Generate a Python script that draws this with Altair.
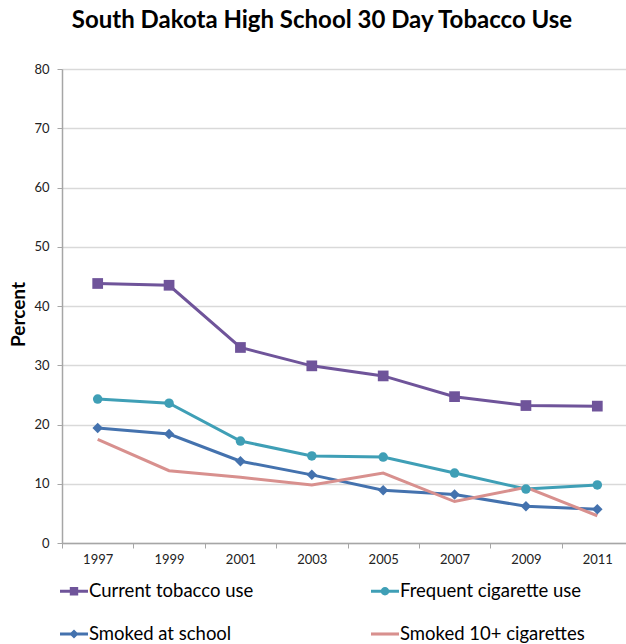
import altair as alt
import pandas as pd

years = ["1997", "1999", "2001", "2003", "2005", "2007", "2009", "2011"]
series = ["Current tobacco use", "Frequent cigarette use", "Smoked at school", "Smoked 10+ cigarettes"]
current = [43.8, 43.5, 33.0, 29.9, 28.2, 24.7, 23.2, 23.1]
frequent = [24.3, 23.6, 17.2, 14.7, 14.5, 11.8, 9.1, 9.8]
school = [19.4, 18.4, 13.8, 11.5, 8.9, 8.2, 6.2, 5.7]
ten_plus = [17.5, 12.2, 11.1, 9.8, 11.8, 7.0, 9.4, 4.6]
colors = ["#6F549A", "#3F9FB6", "#4472AE", "#D8908E"]
y_ticks = [0, 10, 20, 30, 40, 50, 60, 70, 80]

rows = []
for s_i, (name, vals) in enumerate(zip(series, [current, frequent, school, ten_plus])):
    for yr, v in zip(years, vals):
        rows.append({"year": yr, "value": v, "series": name, "sidx": s_i})
df = pd.DataFrame(rows)

FONT = "Lato"

# legend symbols: line with marker (custom paths, unit box -1..1)
legend_paths = [
    "M-1,-0.11H1V0.11H-1Z M-0.3,-0.3H0.3V0.3H-0.3Z",
    "M-1,-0.11H1V0.11H-1Z M0.3,0A0.3,0.3 0 1,1 -0.3,0A0.3,0.3 0 1,1 0.3,0Z",
    "M-1,-0.11H1V0.11H-1Z M0,-0.33L0.33,0L0,0.33L-0.33,0Z",
    "M-1,-0.11H1V0.11H-1Z",
]

x_enc = alt.X(
    "year:N",
    sort=years,
    scale=alt.Scale(type="band", domain=years, paddingInner=0, paddingOuter=0, range=[0, 571]),
    axis=alt.Axis(
        title=None, labelAngle=0, tickBand="extent", labelFont=FONT, labelFontSize=13,
        labelColor="#222222", domainColor="#A6A6A6", tickColor="#A6A6A6", tickSize=5,
        labelPadding=5, domainWidth=1.5, grid=False,
    ),
)
y_enc = alt.Y(
    "value:Q",
    scale=alt.Scale(domain=[0, 80], nice=False),
    axis=alt.Axis(
        title="Percent", values=y_ticks, labelFont=FONT, labelFontSize=13, labelColor="#222222",
        titleFont=FONT, titleFontSize=19, titleFontWeight="bold", titleColor="#000000",
        titleX=-44, titleY=245, titleBaseline="middle", titleAngle=-90,
        domainColor="#A6A6A6", tickColor="#A6A6A6", tickSize=5, labelPadding=8, domainWidth=1.5,
        gridColor="#D9D9D9", gridWidth=1.5,
    ),
)
color_enc = alt.Color("series:N", scale=alt.Scale(domain=series, range=colors), legend=None)

base = alt.Chart(df)

lines = base.mark_line(strokeWidth=3).encode(x=x_enc, y=y_enc, color=color_enc, order=alt.Order("year:N"))

sq = base.transform_filter(alt.datum.series == series[0]).mark_square(size=115, opacity=1).encode(
    x=x_enc, y=y_enc, color=color_enc)
circ = base.transform_filter(alt.datum.series == series[1]).mark_circle(size=90, opacity=1).encode(
    x=x_enc, y=y_enc, color=color_enc)
diam = base.transform_filter(alt.datum.series == series[2]).mark_point(
    shape="diamond", size=110, filled=True, opacity=1).encode(x=x_enc, y=y_enc, color=color_enc)

dummy = base.transform_filter("datum.sidx < 0").mark_point(filled=True, opacity=1).encode(
    x=x_enc, y=y_enc,
    color=alt.Color(
        "series:N",
        scale=alt.Scale(domain=series, range=colors),
        legend=alt.Legend(
            title=None, orient="none", legendX=-2, legendY=508, columns=2, direction="horizontal",
            symbolSize=784, symbolStrokeWidth=0, symbolOpacity=1, labelFont=FONT, labelFontSize=18.5,
            labelColor="#000000", labelOffset=1, columnPadding=117, rowPadding=19,
            labelLimit=400,
        ),
    ),
    shape=alt.Shape("series:N", scale=alt.Scale(domain=series, range=legend_paths)),
)

chart = alt.layer(lines, sq, circ, diam, dummy).resolve_legend(
    color="independent", shape="independent"
).properties(
    width=564,
    height=474,
    title=alt.Title(
        "South Dakota High School 30 Day Tobacco Use", font=FONT, fontSize=24, fontWeight="bold",
        color="#000000", anchor="middle", frame="group", dx=-22, offset=30,
    ),
    padding={"left": 62, "top": 69, "right": 0, "bottom": 101},
    autosize=alt.AutoSizeParams(type="none"),
).configure_view(stroke=None).configure(background="white")

chart.save("out.html", embed_options={"renderer": "svg", "actions": False})
